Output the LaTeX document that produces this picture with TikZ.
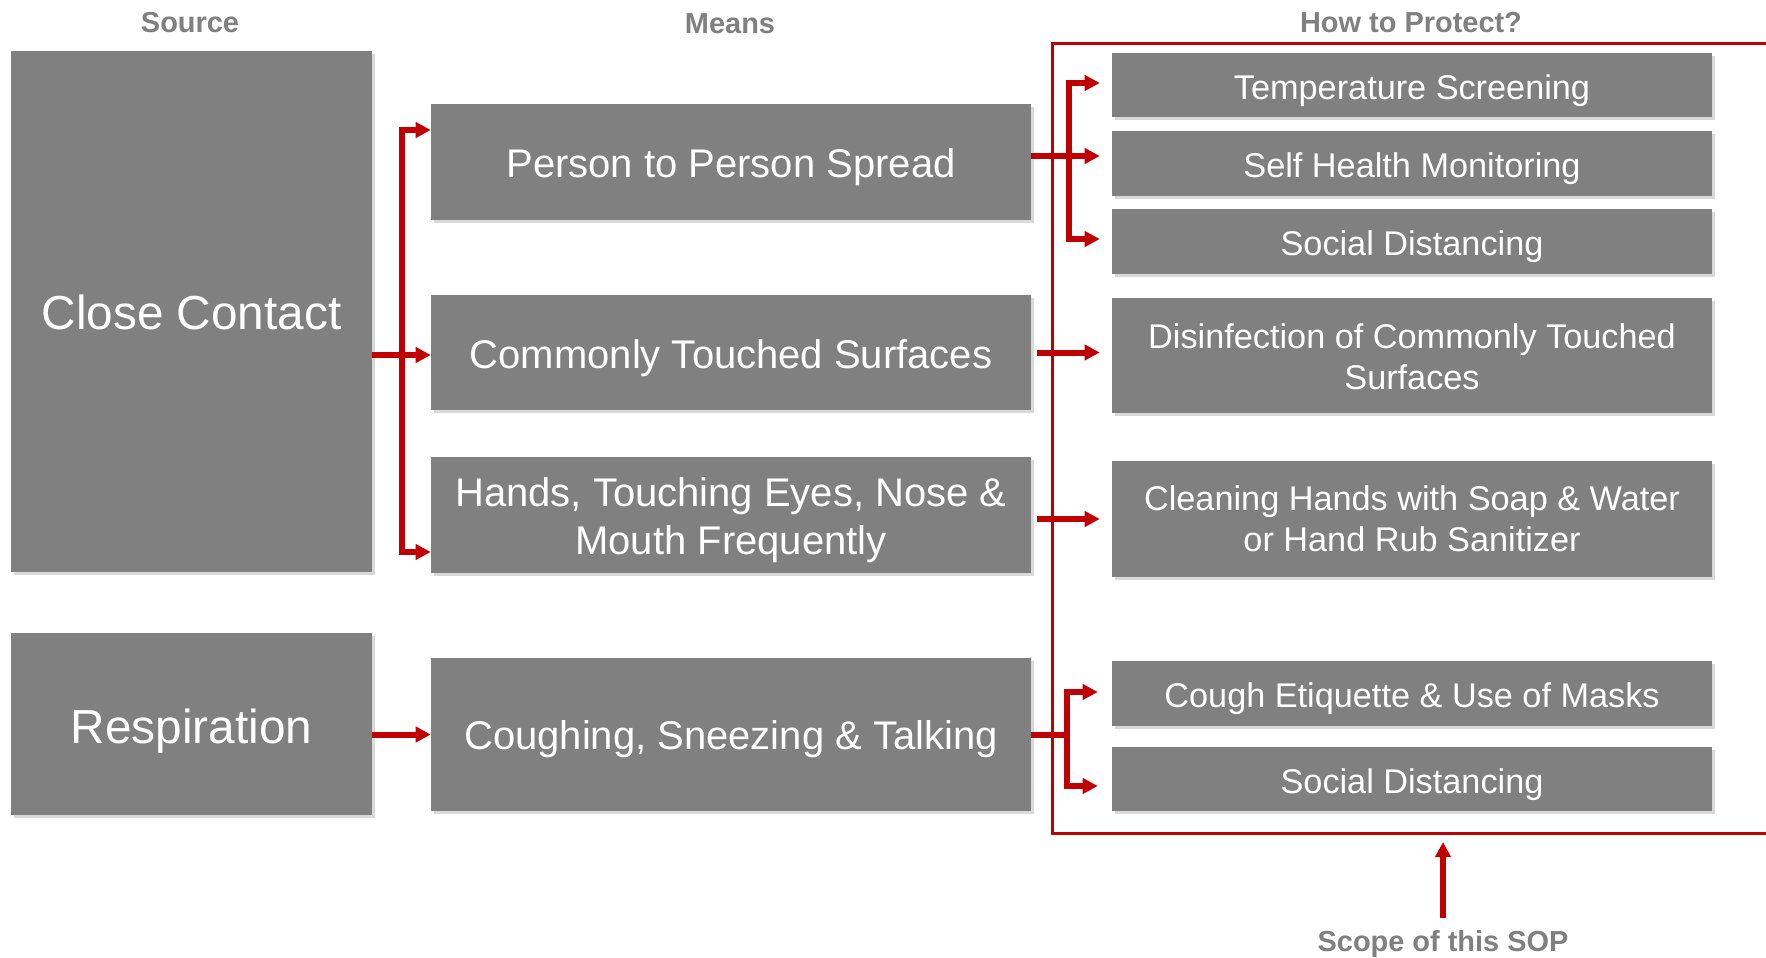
\documentclass[tikz,border=0pt]{standalone}
\usepackage{fontspec}
\setmainfont{Liberation Sans}
\usetikzlibrary{arrows.meta,shadows}
\definecolor{boxgray}{RGB}{128,128,128}
\definecolor{sopred}{RGB}{192,0,0}
\definecolor{headgray}{RGB}{128,128,128}
\newcommand{\lowr}[2]{\raisebox{-#1}[\height][\depth]{#2}}
\newcommand{\twol}[2]{\begin{tabular}{@{}c@{}}#1\\#2\end{tabular}}
\begin{document}
\begin{tikzpicture}[x=0.75pt,y=-0.75pt,
 box/.style={fill=boxgray, text=white, inner sep=0pt, align=center,
   drop shadow={shadow xshift=2pt,shadow yshift=-2pt,opacity=0.3}},
 big/.style={box, font=\fontsize{35.8}{43}\selectfont, minimum width=270.75pt},
 mid/.style={box, font=\fontsize{30}{36.3}\selectfont, minimum width=450pt},
 sm/.style={box, font=\fontsize{25.7}{31}\selectfont, minimum width=450pt},
 head/.style={text=headgray, inner sep=0pt, font=\fontsize{21.7}{26}\selectfont\bfseries},
 ln/.style={draw=sopred, line width=4.5pt},
 arr/.style={ln, -{Triangle[length=11.25pt,width=11.25pt]}},
]
\useasboundingbox (0,0) rectangle (1766,957);
\clip (0,0) rectangle (1766,957);

% headers
\node[head] (hsrc) at (190,22.5) {Source};
\node[head] (hmeans) at (730,23.6) {Means};
\node[head] (hprot) at (1411,22.5) {How to Protect?};

% scope frame
\coordinate (frameBL) at (1052,833);
\draw[sopred, line width=2.25pt] (1052,43) rectangle (1800,833);

% source boxes
\node[big, minimum height=390.75pt] (cc) at (191.5,311.5) {\lowr{0.8pt}{Close Contact}};
\node[big, minimum height=136.5pt] (resp) at (191.5,724) {\lowr{5.5pt}{Respiration}};

% means boxes
\node[mid, minimum height=87pt] (pp) at (731,162) {\lowr{4.2pt}{Person to Person Spread}};
\node[mid, minimum height=86.25pt] (cts) at (731,352.5) {\lowr{4.2pt}{Commonly Touched Surfaces}};
\node[mid, minimum height=87pt] (hands) at (731,515) {\lowr{4.2pt}{\twol{Hands, Touching Eyes, Nose \&}{Mouth Frequently}}};
\node[mid, minimum height=114.75pt] (cough) at (731,734.5) {\lowr{3.6pt}{Coughing, Sneezing \& Talking}};

% protection boxes
\node[sm, minimum height=48pt] (temp) at (1412,85) {\lowr{4pt}{Temperature Screening}};
\node[sm, minimum height=48.75pt] (self) at (1412,163.5) {\lowr{4pt}{Self Health Monitoring}};
\node[sm, minimum height=48.75pt] (soc1) at (1412,241.5) {\lowr{4pt}{Social Distancing}};
\node[sm, minimum height=86.25pt] (dis) at (1412,355.5) {\lowr{3.8pt}{\twol{Disinfection of Commonly Touched}{Surfaces}}};
\node[sm, minimum height=87pt] (clean) at (1412,519) {\lowr{2.6pt}{\twol{Cleaning Hands with Soap \& Water}{or Hand Rub Sanitizer}}};
\node[sm, minimum height=48.75pt] (etiq) at (1412,693.5) {\lowr{3.5pt}{Cough Etiquette \& Use of Masks}};
\node[sm, minimum height=48pt] (soc2) at (1412,779) {\lowr{4pt}{Social Distancing}};

% left bus
\coordinate (bL1) at (402,130);
\coordinate (bL2) at (402,355);
\coordinate (bL3) at (402,552);
\draw[ln] (cc.east |- bL2) -- (bL2);
\draw[arr] (bL2) -- (bL1) -- (bL1 -| pp.west);
\draw[arr] (bL2) -- (bL3) -- (bL3 -| hands.west);
\draw[arr] (bL2) -- (bL2 -| cts.west);
\draw[arr] (resp.east |- cough.west) -- (cough.west);

% right top bus
\coordinate (bR1) at (1069,83);
\coordinate (bR2) at (1069,156);
\coordinate (bR3) at (1069,239);
\draw[arr, shorten >=9pt] (pp.east |- bR2) -- (bR2 -| self.west);
\draw[arr, shorten >=9pt] (bR2) -- (bR1) -- (bR1 -| temp.west);
\draw[arr, shorten >=9pt] (bR2) -- (bR3) -- (bR3 -| soc1.west);

% middle arrows
\draw[arr, shorten <=4.5pt, shorten >=9pt] (cts.east) -- (cts.east -| dis.west);
\draw[arr, shorten <=4.5pt, shorten >=9pt] (hands.east |- clean.west) -- (clean.west);

% coughing bus
\coordinate (bC1) at (1067,692);
\coordinate (bC2) at (1067,734.5);
\coordinate (bC3) at (1067,786);
\draw[ln] (cough.east) -- (bC2);
\draw[arr, shorten >=10.5pt] (bC2) -- (bC1) -- (bC1 -| etiq.west);
\draw[arr, shorten >=10.5pt] (bC2) -- (bC3) -- (bC3 -| soc2.west);

% scope label
\node[head] (scope) at (1443,944) {Scope of this SOP};
\draw[arr, shorten >=6.75pt] (scope.north |- 0,918) -- (scope.north |- frameBL);
\end{tikzpicture}
\end{document}
